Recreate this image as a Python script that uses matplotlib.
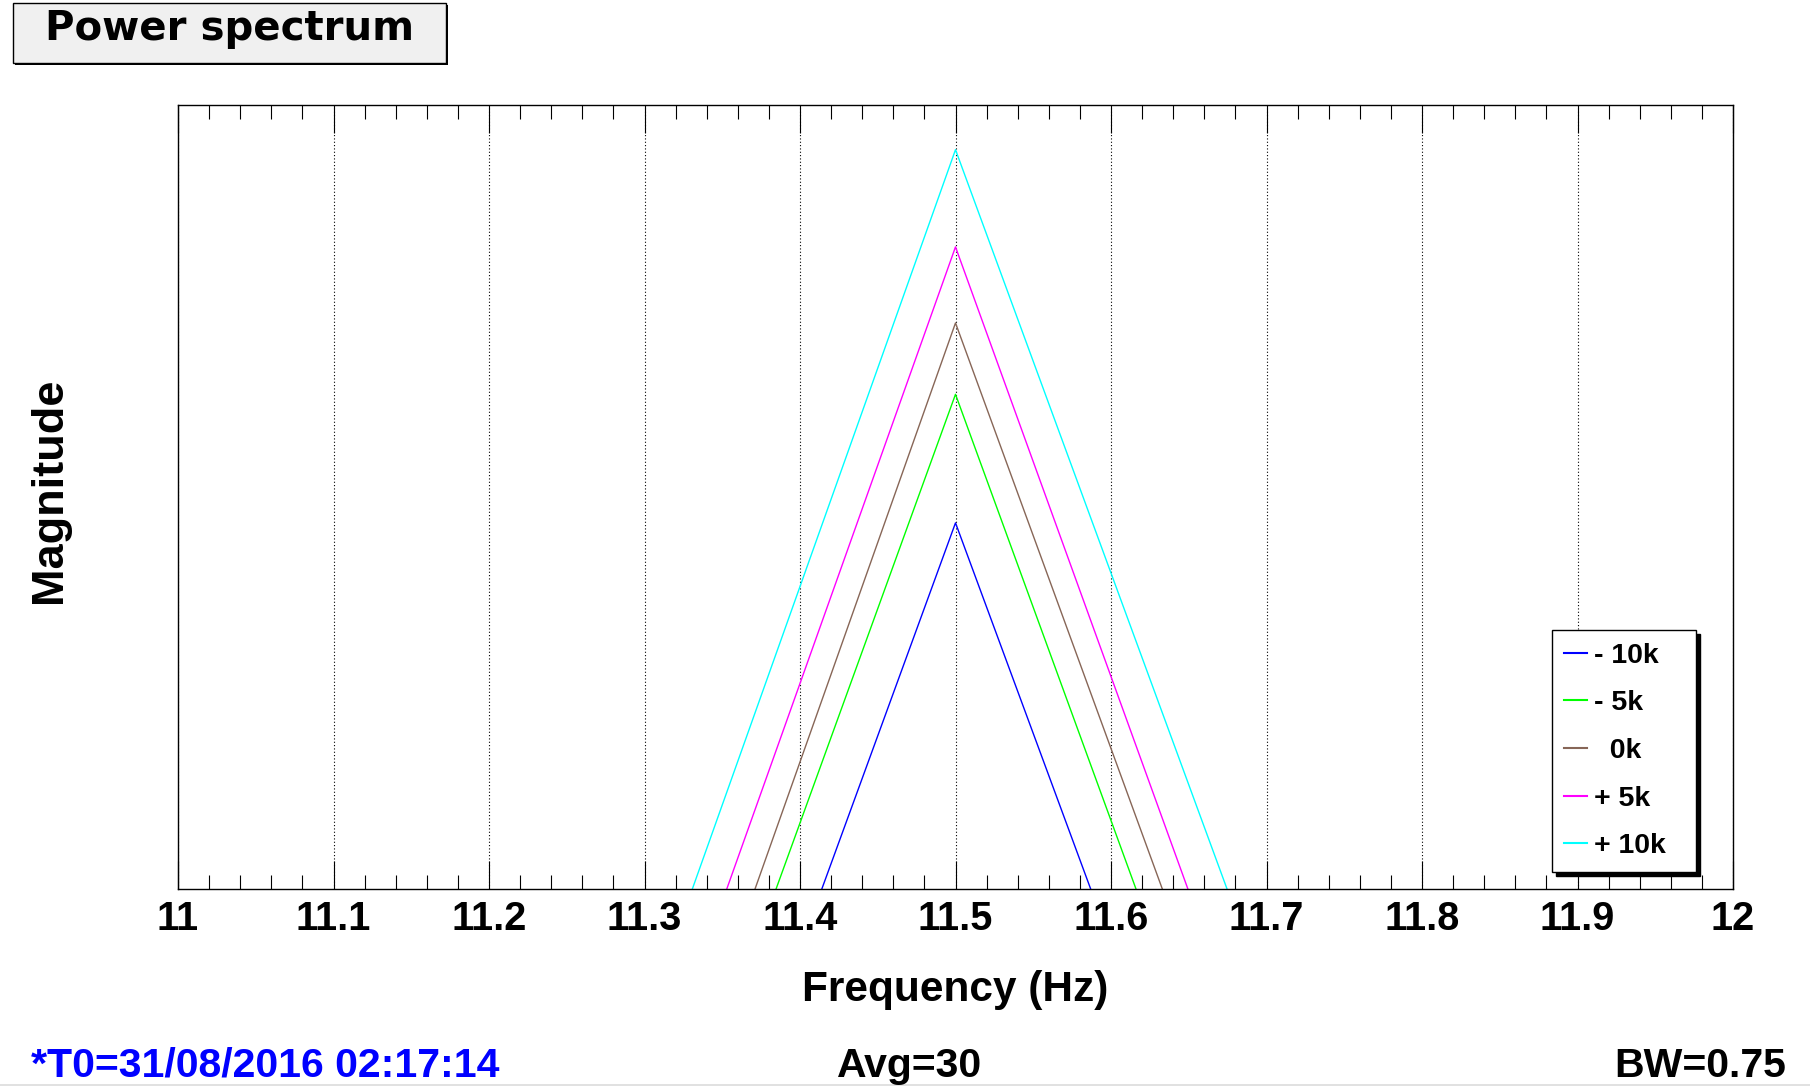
import matplotlib
matplotlib.use("Agg")
import matplotlib.pyplot as plt
from matplotlib.patches import Rectangle
from matplotlib.lines import Line2D
from matplotlib.ticker import MultipleLocator

plt.rcParams['font.family'] = ['Liberation Sans', 'DejaVu Sans']
plt.rcParams['font.weight'] = 'bold'

# spectrum bins around the peak (arbitrary magnitude units, axis 0..1)
freq = [11.25, 11.5, 11.75]
labels = ['- 10k', '- 5k', '  0k', '+ 5k', '+ 10k']
colors = ['#0000ff', '#00ff00', '#876657', '#ff00ff', '#00ffff']
mag_m10k = [-0.891, 0.467, -0.876]
mag_m5k = [-0.736, 0.631, -0.728]
mag_0k = [-0.678, 0.722, -0.635]
mag_p5k = [-0.573, 0.819, -0.551]
mag_p10k = [-0.450, 0.943, -0.407]
series = [mag_m10k, mag_m5k, mag_0k, mag_p5k, mag_p10k]

W, H = 1810, 1089
fig = plt.figure(figsize=(W / 100, H / 100), dpi=100)
ax = fig.add_axes([178 / W, 1 - 889 / H, (1733 - 178) / W, (889 - 105) / H])

for y, c, lab in zip(series, colors, labels):
    ax.plot(freq, y, color=c, lw=1.0, label=lab)

ax.set_xlim(11, 12)
ax.set_ylim(0, 1)
ax.set_yticks([])
ax.xaxis.set_major_locator(MultipleLocator(0.1))
ax.xaxis.set_minor_locator(MultipleLocator(0.02))
ax.xaxis.set_major_formatter(plt.FuncFormatter(lambda v, p: ('%g' % round(v, 2))))
ax.tick_params(axis='x', which='both', direction='in', top=True, labeltop=False,
               width=0.8, labelsize=28.5, pad=8)
ax.tick_params(axis='x', which='major', length=20)
ax.tick_params(axis='x', which='minor', length=10)
for lab in ax.get_xticklabels():
    lab.set_fontweight('bold')
ax.grid(axis='x', which='major', color='k', ls=(0, (1, 2)), lw=0.8)
for s in ax.spines.values():
    s.set_linewidth(1.0)

ax.set_xlabel('Frequency (Hz)', fontsize=30.5, fontweight='bold', va='baseline')
ax.xaxis.set_label_coords(0.5, (889 - 1001) / 784)
ax.set_ylabel('Magnitude', fontsize=32.5, fontweight='bold', va='baseline')
ax.yaxis.set_label_coords((61 - 178) / 1555, (889 - 490) / 784)

leg = ax.legend(loc='upper left', bbox_to_anchor=(0.8834, 0.0268, 0.0928, 0.3036),
                mode='expand', borderaxespad=0, fancybox=False, framealpha=1,
                edgecolor='k', prop={'size': 20.5, 'weight': 'bold'},
                handlelength=0.8, handletextpad=0.22,
                labelspacing=0.76, borderpad=0.45,
                shadow={'ox': 3, 'oy': -3, 'facecolor': 'k', 'edgecolor': 'k', 'alpha': 1})
leg.get_frame().set_linewidth(1.0)
for h in leg.get_lines():
    h.set_linewidth(1.5)

# title box with ROOT-style shadow
fig.patches.append(Rectangle((15 / W, 1 - 65 / H), (446 - 12.7) / W, 60 / H,
                             transform=fig.transFigure, fc='k', ec='k', lw=0, zorder=0))
fig.patches.append(Rectangle((12.7 / W, 1 - 62.7 / H), (446 - 12.7) / W, 60 / H,
                             transform=fig.transFigure, fc='#f0f0f0', ec='k', lw=1, zorder=1))
fig.text(229.5 / W, 1 - 40 / H, 'Power spectrum', ha='center', va='baseline',
         fontsize=29, fontweight='bold', family='DejaVu Sans')

# footer info
base = 1 - 1076.7 / H
fig.text(31 / W, base, '*T0=31/08/2016 02:17:14', ha='left', va='baseline',
         fontsize=29.5, fontweight='bold', color='#0000ff')
fig.text(910 / W, base, 'Avg=30', ha='center', va='baseline', fontsize=29.5, fontweight='bold')
fig.text(1786 / W, base, 'BW=0.75', ha='right', va='baseline', fontsize=29.5, fontweight='bold')
fig.lines.append(Line2D([0, 1], [1 - 1085 / H] * 2, transform=fig.transFigure,
                        color='#dcdcdc', lw=1.2))

fig.savefig('out.png', dpi=100)
